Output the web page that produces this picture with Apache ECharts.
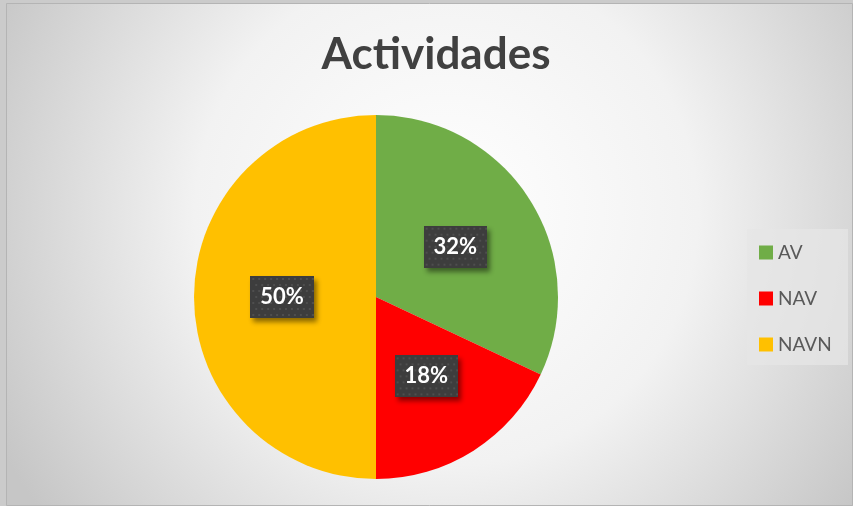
<!DOCTYPE html>
<html>
<head>
<meta charset="utf-8">
<script src="https://cdn.jsdelivr.net/npm/echarts@6/dist/echarts.min.js"></script>
<style>
  html, body { margin: 0; padding: 0; background: #cbcbcb; }
  #chart { width: 853px; height: 506px; }
</style>
</head>
<body>
<div id="chart"></div>
<script>
// datos
const categories = ['AV', 'NAV', 'NAVN']
const values = [32, 18, 50]
const colors = ['#70ad47', '#ff0000', '#ffc000']

// fondo punteado de las etiquetas
function dotPattern(w, h) {
  const c = document.createElement('canvas')
  c.width = w
  c.height = h
  const ctx = c.getContext('2d')
  ctx.fillStyle = '#3d3d3d'
  ctx.fillRect(0, 0, w, h)
  ctx.fillStyle = '#4e4e4e'
  for (let y = 2; y < h; y += 6) {
    for (let x = ((y / 6) | 0) % 2 ? 5 : 2; x < w; x += 6) {
      ctx.fillRect(x, y, 2, 2)
    }
  }
  return c
}

const chart = echarts.init(document.getElementById('chart'))

const option = {
  animation: false,
  title: {
    text: 'Actividades',
    left: 431,
    top: 28,
    textAlign: 'center',
    textStyle: {
      fontFamily: 'Lato',
      fontWeight: 'bold',
      fontSize: 44,
      color: '#404040'
    }
  },
  graphic: [{
    type: 'rect',
    z: -10,
    silent: true,
    shape: { x: 6.5, y: 3.5, width: 846, height: 502 },
    style: {
      fill: {
        type: 'radial', x: 0.52, y: 0.42, r: 1,
        colorStops: [
          { offset: 0, color: '#ffffff' },
          { offset: 0.5, color: '#f2f2f2' },
          { offset: 1, color: '#c6c6c6' }
        ]
      },
      stroke: '#b4b4b4',
      lineWidth: 1
    }
  }, {
    type: 'rect',
    z: -5,
    silent: true,
    shape: { x: 747, y: 229, width: 101, height: 136 },
    style: { fill: 'rgba(230,230,230,0.75)' }
  }],
  legend: {
    orient: 'vertical',
    left: 759,
    top: 243,
    padding: 0,
    itemWidth: 14,
    itemHeight: 14,
    itemGap: 27,
    icon: 'rect',
    data: categories,
    textStyle: {
      fontFamily: 'Lato',
      fontSize: 19,
      lineHeight: 18,
      color: '#595959'
    }
  },
  color: colors,
  series: [{
    type: 'pie',
    center: [376, 297],
    radius: [0, 182],
    startAngle: 90,
    clockwise: true,
    data: categories.map((c, i) => ({ name: c, value: values[i] })),
    itemStyle: { borderWidth: 0 },
    label: {
      position: 'inside',
      formatter: p => p.value + '%',
      fontFamily: 'Lato',
      fontWeight: 'bold',
      fontSize: 22,
      color: '#ffffff',
      backgroundColor: { image: dotPattern(64, 42) },
      padding: [11, 10, 9, 10],
      shadowColor: 'rgba(0,0,0,0.45)',
      shadowBlur: 5,
      shadowOffsetX: 3,
      shadowOffsetY: 4
    },
    labelLine: { show: false },
    emphasis: { disabled: true }
  }]
}

chart.setOption(option)
</script>
</body>
</html>
